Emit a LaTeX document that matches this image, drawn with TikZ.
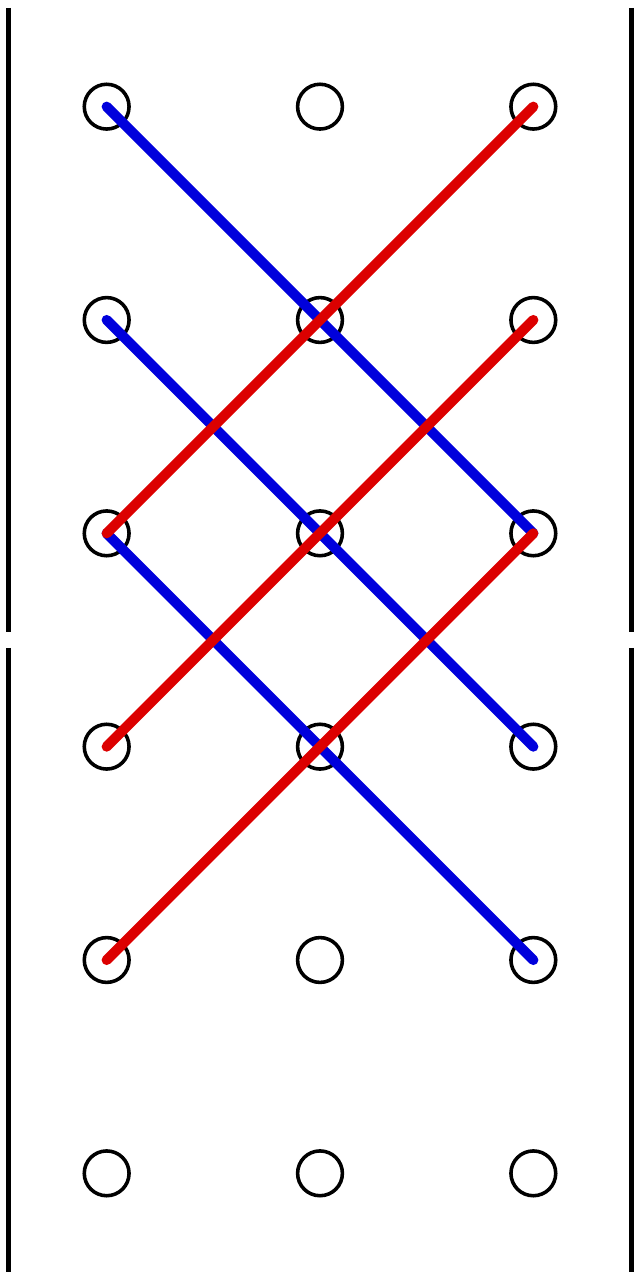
\documentclass[tikz,border=0pt]{standalone}
\usepackage{tikz}
\definecolor{pathblue}{RGB}{0,0,220}
\definecolor{pathred}{RGB}{220,0,0}
\tikzset{
  site/.style={circle, draw=black, line width=0.95pt, minimum size=0.42cm, inner sep=0pt},
  wall/.style={black, line width=1.2pt},
  bluepath/.style={pathblue, line width=2.7pt, line cap=round},
  redpath/.style={pathred, line width=2.7pt, line cap=round}
}
\begin{document}
\begin{tikzpicture}[x=2cm, y=2cm]
	\useasboundingbox (0,0) rectangle (3,6);
	
	% walls, split in the middle
	\coordinate (lt) at (0.04,5.9625);  \coordinate (lm1) at (0.04,3.0375);
	\coordinate (lm2) at (0.04,2.9625); \coordinate (lb) at (0.04,0.0375);
	\coordinate (rt) at (2.96,5.9625);  \coordinate (rm1) at (2.96,3.0375);
	\coordinate (rm2) at (2.96,2.9625); \coordinate (rb) at (2.96,0.0375);
	\draw[wall] (lt)--(lm1)  (lm2)--(lb);
	\draw[wall] (rt)--(rm1)  (rm2)--(rb);
	
	% grid of sites
	\foreach \r in {1,...,6}
		\foreach \c in {1,2,3}
			\node[site] (n-\r-\c) at (\c-0.5,6.5-\r) {};
	
	\draw[bluepath] (n-1-1.center)--(n-3-3.center);
	\draw[bluepath] (n-2-1.center)--(n-4-3.center);
	\draw[bluepath] (n-3-1.center)--(n-5-3.center);
	
	\draw[redpath] (n-3-1.center)--(n-1-3.center);
	\draw[redpath] (n-4-1.center)--(n-2-3.center);
	\draw[redpath] (n-5-1.center)--(n-3-3.center);
\end{tikzpicture}
\end{document}
